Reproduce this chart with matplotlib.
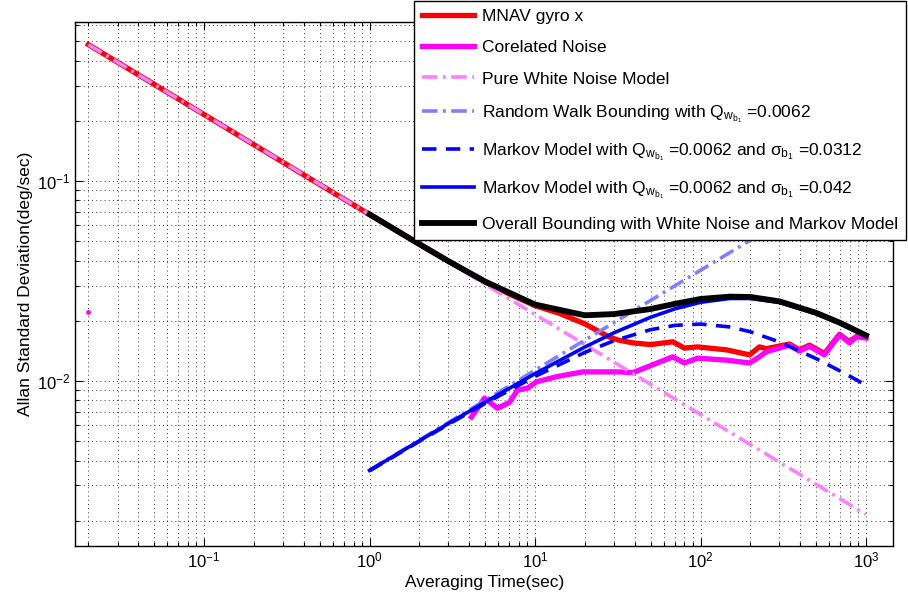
import matplotlib
matplotlib.use("Agg")
import matplotlib.pyplot as plt
import numpy as np

plt.rcParams["font.family"] = ["Liberation Sans", "DejaVu Sans"]
plt.rcParams["mathtext.fontset"] = "custom"
plt.rcParams["mathtext.rm"] = "Liberation Sans"
plt.rcParams["mathtext.it"] = "Liberation Sans"
plt.rcParams["mathtext.sf"] = "Liberation Sans"

# measured Allan deviation, gyro x axis (deg/sec)
gyro_tau = [0.02, 0.1, 0.5, 1, 2, 3, 5, 7, 10, 14, 20, 28, 32, 39, 50, 68, 80, 96,
            144, 198, 227, 250, 345, 396, 456, 561, 692, 795, 877, 1000]
gyro_sigma = [0.481, 0.215, 0.096, 0.068, 0.0484, 0.0397, 0.0312, 0.0272, 0.0238, 0.0218,
              0.0193, 0.0166, 0.0160, 0.0155, 0.0152, 0.0157, 0.0146, 0.0148, 0.0143, 0.0135,
              0.0148, 0.0145, 0.0153, 0.0143, 0.0151, 0.0137, 0.0171, 0.0157, 0.0167, 0.0166]

# correlated part (white noise removed); undefined between 0.02 s and ~4 s
corr_tau = [0.02, 4.13, 4.95, 5.93, 7.0, 7.84, 9.0, 10.2, 13.5, 19.4, 32, 39, 68, 80, 96,
            144, 198, 227, 250, 345, 396, 456, 561, 692, 795, 877, 1000]
corr_sigma = [0.022, 0.0066, 0.0082, 0.0073, 0.0078, 0.0090, 0.0092, 0.0099, 0.0105, 0.0111,
              0.0111, 0.0110, 0.0132, 0.0123, 0.0130, 0.0127, 0.0123, 0.0132, 0.0140, 0.0151,
              0.0141, 0.0149, 0.0135, 0.0170, 0.0155, 0.0166, 0.0164]

white_tau = [0.02, 1000]
white_sigma = [0.481, 0.00215]

walk_tau = [1, 1000]
walk_sigma = [0.00358, 0.113]

model_tau = [1, 2, 3, 5, 10, 20, 30, 50, 70, 100, 150, 200, 300, 500, 700, 1000]
markov_a = [0.00355, 0.00499, 0.00607, 0.00772, 0.01053, 0.01389, 0.01589, 0.01805,
            0.01896, 0.01925, 0.01863, 0.01762, 0.01567, 0.01293, 0.01120, 0.00954]
markov_b = [0.00357, 0.00502, 0.00613, 0.00784, 0.01087, 0.01478, 0.01741, 0.02083,
            0.02294, 0.02473, 0.02584, 0.02585, 0.02468, 0.02169, 0.01928, 0.01671]
overall = [0.0681, 0.0483, 0.0397, 0.0314, 0.0241, 0.0213, 0.0216, 0.0229,
           0.0243, 0.0257, 0.0264, 0.0263, 0.0250, 0.0219, 0.0195, 0.0169]

q_sub = r"$\mathrm{Q}_{\mathrm{w}_{\mathrm{b}_1}}$"
s_sub = r"$\sigma_{\mathrm{b}_1}$"

fig = plt.figure(figsize=(9.08, 6.07), dpi=100, facecolor="white")
ax = fig.add_axes([0.0826, 0.101, 0.9012, 0.8628])

dashdot = (0, (4.3, 1.5, 0.8, 1.5))
ax.plot(gyro_tau, gyro_sigma, color="#ff0000", lw=3.8, label="MNAV gyro x")
ax.plot(corr_tau[1:], corr_sigma[1:], color="#ff00ff", lw=3.8, label="Corelated Noise")
ax.plot(corr_tau[:1], corr_sigma[:1], "o", color="#ff00ff", ms=3.5, mec="none")
ax.plot(white_tau, white_sigma, color="#ff80ff", lw=2.6, ls=dashdot,
        label="Pure White Noise Model")
ax.plot(walk_tau, walk_sigma, color="#8080ff", lw=2.6, ls=dashdot,
        label=f"Random Walk Bounding with {q_sub} =0.0062")
ax.plot(model_tau, markov_a, color="#0000ff", lw=2.6, ls=(0, (4, 2.6)),
        label=f"Markov Model with {q_sub} =0.0062 and {s_sub} =0.0312")
ax.plot(model_tau, markov_b, color="#0000ff", lw=2.6,
        label=f"Markov Model with {q_sub} =0.0062 and {s_sub} =0.042")
ax.plot(model_tau, overall, color="black", lw=4.2,
        label="Overall Bounding with White Noise and Markov Model")

ax.set_xscale("log")
ax.set_yscale("log")
ax.set_xlim(0.0166, 1462)
ax.set_ylim(0.0015, 0.624)
ax.grid(True, which="both", color="black", ls=(0, (1, 4)), lw=0.6)
ax.tick_params(which="both", direction="in", top=True, right=True, labelsize=12, width=0.8)
ax.tick_params(which="major", length=6)
ax.tick_params(which="minor", length=3)
for spine in ax.spines.values():
    spine.set_linewidth(1.0)
ax.set_xlabel("Averaging Time(sec)", fontsize=12.5, labelpad=3)
ax.set_ylabel("Allan Standard Deviation(deg/sec)", fontsize=12.5, labelpad=3)

leg = ax.legend(loc="upper right", bbox_to_anchor=(906 / 908, 1 - 1 / 607),
                bbox_transform=fig.transFigure, fontsize=12.5, handlelength=3.0,
                labelspacing=0.93, borderpad=0.45, handletextpad=0.45, borderaxespad=0,
                fancybox=False, framealpha=1, edgecolor="black")
leg.get_frame().set_linewidth(1.0)

fig.savefig("out.png", dpi=100, facecolor="white")
